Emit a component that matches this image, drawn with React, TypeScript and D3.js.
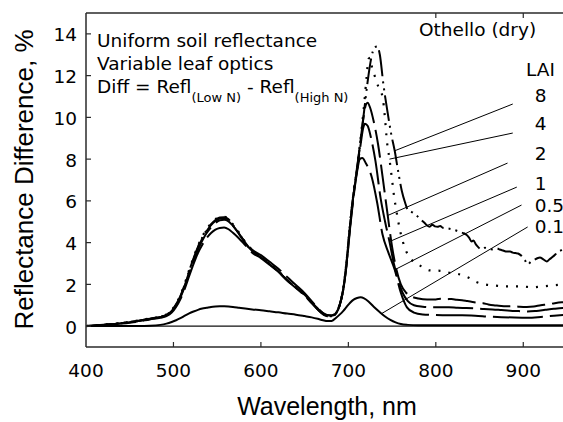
import React from 'react';
import * as d3 from 'd3';

const WIDTH = 563;
const HEIGHT = 422;
const PLOT = { left: 86, right: 567, top: 13, bottom: 347 };

const xDomain: [number, number] = [400, 950];
const yDomain: [number, number] = [-1, 15];
const xTicks = [400, 500, 600, 700, 800, 900];
const yTicks = [0, 2, 4, 6, 8, 10, 12, 14];
const topTicks = [800, 900];

type Pt = [number, number];

// Shared wavelength grid (nm) for the visible / red-edge rise
const visWl = [400, 420, 440, 460, 473, 485, 492, 498, 503, 508, 513, 518, 523, 528, 533, 538, 543, 548, 553, 558, 563, 568, 575, 582, 590, 600, 610, 620, 630, 640, 650, 658, 665, 671, 676, 681, 686, 690, 694, 698, 702, 706, 710];

// Reflectance difference (%) on visWl for each LAI
const vis8 = [0, 0.07, 0.15, 0.26, 0.36, 0.45, 0.55, 0.75, 1.05, 1.45, 2.0, 2.65, 3.25, 3.8, 4.25, 4.6, 4.88, 5.08, 5.2, 5.22, 5.12, 4.85, 4.45, 4.0, 3.6, 3.32, 2.98, 2.62, 2.2, 1.85, 1.48, 1.12, 0.8, 0.58, 0.48, 0.47, 0.62, 1.0, 1.75, 3.1, 4.9, 6.4, 7.6];
const vis4 = [0, 0.07, 0.15, 0.27, 0.37, 0.46, 0.56, 0.77, 1.08, 1.5, 2.05, 2.7, 3.3, 3.85, 4.3, 4.65, 4.92, 5.12, 5.24, 5.24, 5.13, 4.88, 4.48, 4.03, 3.63, 3.34, 3.0, 2.64, 2.22, 1.86, 1.5, 1.14, 0.82, 0.6, 0.5, 0.49, 0.64, 1.02, 1.78, 3.12, 4.9, 6.4, 7.6];
const vis2 = [0, 0.06, 0.14, 0.25, 0.35, 0.44, 0.54, 0.73, 1.02, 1.42, 1.96, 2.6, 3.2, 3.75, 4.2, 4.56, 4.84, 5.04, 5.16, 5.18, 5.08, 4.82, 4.42, 3.98, 3.58, 3.3, 2.96, 2.6, 2.18, 1.83, 1.46, 1.1, 0.79, 0.57, 0.47, 0.46, 0.61, 0.98, 1.72, 3.05, 4.85, 6.35, 7.55];
const vis1 = [0, 0.06, 0.14, 0.24, 0.34, 0.43, 0.52, 0.7, 0.98, 1.38, 1.9, 2.52, 3.12, 3.66, 4.1, 4.46, 4.74, 4.94, 5.07, 5.1, 5.02, 4.8, 4.42, 4.02, 3.66, 3.4, 3.08, 2.75, 2.35, 1.97, 1.58, 1.2, 0.86, 0.63, 0.52, 0.5, 0.64, 1.0, 1.72, 3.0, 4.8, 6.3, 7.5];
const vis05 = [0, 0.05, 0.12, 0.22, 0.32, 0.4, 0.48, 0.65, 0.92, 1.3, 1.8, 2.4, 2.98, 3.5, 3.9, 4.22, 4.46, 4.62, 4.7, 4.72, 4.64, 4.47, 4.2, 3.88, 3.52, 3.26, 2.94, 2.6, 2.2, 1.86, 1.5, 1.15, 0.84, 0.62, 0.53, 0.52, 0.66, 1.02, 1.7, 2.95, 4.7, 6.2, 7.4];
const vis01 = [0, 0.01, 0.01, 0.01, 0.02, 0.06, 0.12, 0.2, 0.28, 0.38, 0.5, 0.61, 0.7, 0.78, 0.84, 0.88, 0.92, 0.94, 0.95, 0.95, 0.94, 0.92, 0.88, 0.84, 0.8, 0.76, 0.71, 0.66, 0.6, 0.55, 0.48, 0.42, 0.35, 0.28, 0.24, 0.25, 0.4, 0.55, 0.72, 0.92, 1.12, 1.27, 1.35];

// Red-edge peak and near-infrared tails: [wavelength, difference]
const tail8: Pt[] = [[714, 8.9], [718, 10.3], [722, 11.7], [726, 12.8], [730, 13.35], [733, 13.4], [736, 13.0], [740, 11.6], [745, 10.2], [749, 9.2], [753, 8.4], [757, 7.4], [761, 6.5], [765, 5.9], [768, 5.57], [771, 5.5], [774, 5.43], [778, 5.3], [783, 5.1], [787, 4.95], [790, 4.82], [793, 4.76], [796, 4.86], [799, 4.78], [802, 4.76], [805, 4.8], [808, 4.71], [814, 4.68], [820, 4.62], [825, 4.55], [829, 4.48], [832, 4.45], [835, 4.38], [838, 4.24], [841, 4.05], [843, 4.1], [846, 3.9], [849, 3.76], [852, 3.67], [856, 3.75], [860, 3.7], [866, 3.67], [870, 3.72], [873, 3.67], [877, 3.62], [881, 3.57], [885, 3.58], [888, 3.52], [891, 3.5], [894, 3.48], [897, 3.4], [899, 3.33], [902, 3.15], [905, 2.95], [909, 3.1], [913, 3.19], [916, 3.25], [919, 3.29], [923, 3.2], [927, 3.1], [930, 3.2], [934, 3.33], [937, 3.45], [939, 3.57], [942, 3.6], [945, 3.67], [950, 3.6]];
const tail4: Pt[] = [[714, 9.0], [718, 10.6], [721, 12.0], [723, 12.8], [725, 12.85], [727, 12.4], [730, 12.0], [734, 11.5], [739, 11.0], [742, 9.9], [744, 8.9], [747, 8.0], [750, 7.0], [752, 6.3], [755, 5.5], [759, 4.6], [765, 3.7], [772, 3.2], [782, 2.9], [793, 2.67], [805, 2.65], [814, 2.57], [825, 2.5], [837, 2.33], [847, 2.1], [856, 2.0], [867, 1.95], [879, 1.9], [899, 1.9], [910, 1.86], [922, 1.9], [934, 1.95], [950, 2.02]];
const tail2: Pt[] = [[714, 8.9], [717, 9.9], [720, 10.6], [722, 10.7], [725, 10.45], [729, 9.8], [734, 8.7], [739, 7.2], [745, 5.3], [750, 3.8], [755, 2.7], [760, 2.0], [766, 1.6], [772, 1.42], [780, 1.32], [790, 1.27], [800, 1.28], [806, 1.31], [812, 1.29], [818, 1.3], [824, 1.26], [830, 1.24], [836, 1.2], [842, 1.16], [848, 1.12], [854, 1.1], [860, 1.04], [866, 1.0], [872, 0.98], [880, 0.95], [888, 0.96], [896, 0.93], [904, 0.92], [912, 0.94], [920, 1.0], [928, 1.04], [936, 1.1], [944, 1.14], [950, 1.15]];
const tail1: Pt[] = [[714, 8.7], [717, 9.5], [719, 9.7], [722, 9.6], [726, 9.0], [731, 7.9], [737, 6.1], [742, 5.0], [747, 4.05], [752, 3.0], [757, 2.2], [762, 1.6], [768, 1.2], [775, 1.0], [785, 0.93], [795, 0.9], [805, 0.9], [815, 0.91], [825, 0.88], [835, 0.87], [845, 0.85], [855, 0.82], [865, 0.8], [875, 0.77], [885, 0.74], [895, 0.72], [905, 0.7], [915, 0.73], [925, 0.78], [935, 0.83], [945, 0.87], [950, 0.88]];
const tail05: Pt[] = [[713, 8.0], [716, 8.05], [720, 7.8], [727, 7.1], [733, 5.9], [739, 4.4], [746, 3.5], [753, 2.7], [760, 1.6], [767, 0.9], [775, 0.65], [785, 0.56], [800, 0.53], [815, 0.52], [830, 0.52], [845, 0.5], [860, 0.46], [875, 0.43], [890, 0.41], [905, 0.4], [920, 0.44], [935, 0.5], [950, 0.55]];
const tail01: Pt[] = [[714, 1.38], [718, 1.33], [723, 1.18], [729, 0.93], [736, 0.67], [742, 0.46], [748, 0.3], [754, 0.18], [760, 0.1], [768, 0.06], [780, 0.04], [850, 0.04], [950, 0.04]];

const laiLabels = ['8', '4', '2', '1', '0.5', '0.1'];
const dashes = ['26,5,2,5,2,5', '2,8', '28,7', '40,7', '50,7', ''];

// Leader lines: label-side start (wavelength, value) and wavelength where they meet the curve
const leaderFromWl = [888, 888, 882, 892.6, 898, 905];
const leaderFromVal = [10.64, 9.25, 7.81, 6.66, 5.8, 4.75];
const leaderToWl = [753, 747, 745, 747, 753, 738];
// Label baselines (value units) and left edge (wavelength)
const labelVal = [10.74, 9.4, 7.96, 6.52, 5.47, 4.46];
const labelWl = 913;

const zip = (wl: number[], v: number[]): Pt[] => wl.map((w, i) => [w, v[i]] as Pt);

const curves: Pt[][] = [
  [...zip(visWl, vis8), ...tail8],
  [...zip(visWl, vis4), ...tail4],
  [...zip(visWl, vis2), ...tail2],
  [...zip(visWl, vis1), ...tail1],
  [...zip(visWl, vis05), ...tail05],
  [...zip(visWl, vis01), ...tail01],
];

function valueAt(pts: Pt[], wl: number): number {
  const i = d3.bisector((d: Pt) => d[0]).left(pts, wl);
  if (i <= 0) return pts[0][1];
  if (i >= pts.length) return pts[pts.length - 1][1];
  const a = pts[i - 1];
  const b = pts[i];
  const t = (wl - a[0]) / (b[0] - a[0]);
  return a[1] + t * (b[1] - a[1]);
}

const labelFont = 'DejaVu Sans, Verdana, sans-serif';
const titleFont = 'Liberation Sans, Arial, Helvetica, sans-serif';

export default function App() {
  const x = d3.scaleLinear().domain(xDomain).range([PLOT.left, PLOT.right]);
  const y = d3.scaleLinear().domain(yDomain).range([PLOT.bottom, PLOT.top]);
  const line = d3
    .line<Pt>()
    .x((d) => x(d[0]))
    .y((d) => y(d[1]))
    .curve(d3.curveMonotoneX);

  const frame = '#2a2a2a';

  return (
    <svg
      width={WIDTH}
      height={HEIGHT}
      style={{ position: 'absolute', left: 0, top: 0, background: '#fff' }}
    >
      <defs>
        <clipPath id="plot-clip">
          <rect x={PLOT.left} y={PLOT.top} width={PLOT.right - PLOT.left} height={PLOT.bottom - PLOT.top} />
        </clipPath>
      </defs>

      {/* zero reference line */}
      <line x1={x(400)} x2={PLOT.right} y1={y(0)} y2={y(0)} stroke="#111" strokeWidth={1.3} />

      <g clipPath="url(#plot-clip)">
        {curves.map((pts, i) => (
          <path
            key={laiLabels[i]}
            d={line(pts) || ''}
            fill="none"
            stroke="#000"
            strokeWidth={i === 1 ? 2.2 : 2}
            strokeDasharray={dashes[i] || undefined}
            strokeLinejoin="round"
          />
        ))}
        {curves.map((pts, i) => {
          const x1 = x(leaderFromWl[i]);
          const y1 = y(leaderFromVal[i]);
          const x2 = x(leaderToWl[i]);
          const y2 = y(valueAt(pts, leaderToWl[i]));
          return <line key={'l' + i} x1={x1} y1={y1} x2={x2} y2={y2} stroke="#000" strokeWidth={1} />;
        })}
      </g>

      {/* frame */}
      <line x1={PLOT.left} x2={PLOT.left} y1={PLOT.top} y2={PLOT.bottom} stroke={frame} strokeWidth={1.5} />
      <line x1={PLOT.left} x2={PLOT.right} y1={PLOT.top} y2={PLOT.top} stroke={frame} strokeWidth={1.5} />
      <line x1={PLOT.left} x2={PLOT.right} y1={PLOT.bottom} y2={PLOT.bottom} stroke={frame} strokeWidth={1.5} />

      {/* ticks */}
      {yTicks.map((t) => (
        <g key={'y' + t}>
          <line x1={PLOT.left} x2={PLOT.left + 5} y1={y(t)} y2={y(t)} stroke={frame} strokeWidth={1.2} />
          <text
            x={77}
            y={y(t) + 7.5}
            textAnchor="end"
            fontFamily={labelFont}
            fontSize={18.5}
            fill="#000"
          >
            {t}
          </text>
        </g>
      ))}
      {xTicks.map((t) => (
        <g key={'x' + t}>
          {t > 400 && (
            <line x1={x(t)} x2={x(t)} y1={PLOT.bottom} y2={PLOT.bottom - 5} stroke={frame} strokeWidth={1.2} />
          )}
          <text x={x(t)} y={377} textAnchor="middle" fontFamily={labelFont} fontSize={18.5} fill="#000">
            {t}
          </text>
        </g>
      ))}
      {topTicks.map((t) => (
        <line key={'t' + t} x1={x(t)} x2={x(t)} y1={PLOT.top} y2={PLOT.top + 5} stroke={frame} strokeWidth={1.2} />
      ))}

      {/* axis titles */}
      <text
        transform="translate(33,179.5) rotate(-90)"
        textAnchor="middle"
        fontFamily={titleFont}
        fontSize={26}
        fill="#000"
      >
        Reflectance Difference, %
      </text>
      <text x={327} y={415} textAnchor="middle" fontFamily={titleFont} fontSize={25} fill="#000">
        Wavelength, nm
      </text>

      {/* description */}
      <g fontFamily={labelFont} fontSize={18.5} fill="#000">
        <text x={97} y={47}>Uniform soil reflectance</text>
        <text x={97} y={70}>Variable leaf optics</text>
        <text x={97} y={93}>
          Diff = Refl
          <tspan fontSize={13} dy={9}>(Low N)</tspan>
          <tspan dy={-9}> - Refl</tspan>
          <tspan fontSize={13} dy={9}>(High N)</tspan>
        </text>
        <text x={419} y={36}>Othello (dry)</text>
        <text x={526} y={76}>LAI</text>
        {laiLabels.map((l, i) => (
          <text key={'lab' + l} x={x(labelWl)} y={y(labelVal[i])}>
            {l}
          </text>
        ))}
      </g>
    </svg>
  );
}
